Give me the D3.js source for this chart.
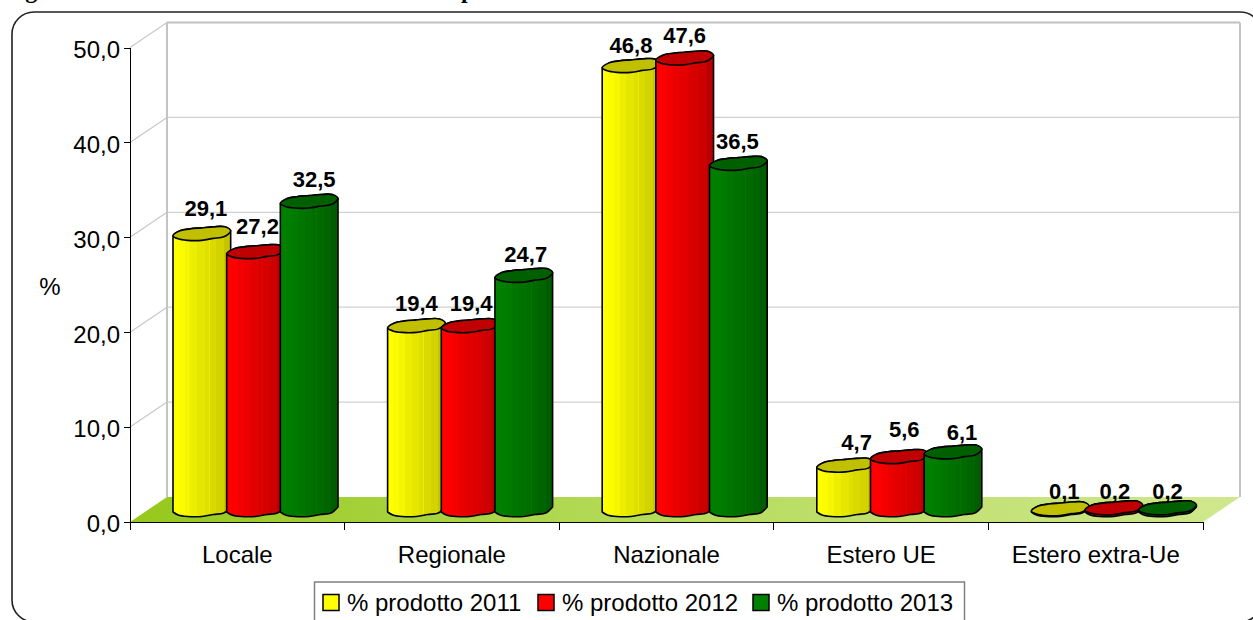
<!DOCTYPE html>
<html lang="it">
<head>
<meta charset="utf-8">
<title>Prodotto per destinazione</title>
<script src="https://cdn.jsdelivr.net/npm/d3@7/dist/d3.min.js"></script>
<style>
  html, body { margin: 0; padding: 0; background: #fff; overflow: hidden; }
  svg { display: block; font-family: "Liberation Sans", Arial, sans-serif; }
  .axis text { font-size: 24px; fill: #000; }
  .axis path, .axis line { stroke: #000; stroke-width: 1; shape-rendering: crispEdges; }
  .value { font-size: 22px; font-weight: 700; fill: #000; text-anchor: middle; }
</style>
</head>
<body>
<svg id="chart" width="1253" height="620"></svg>
<script>
// Chart values
const categories = ["Locale", "Regionale", "Nazionale", "Estero UE", "Estero extra-Ue"];
const seriesNames = ["% prodotto 2011", "% prodotto 2012", "% prodotto 2013"];
const values2011 = [29.1, 19.4, 46.8, 4.7, 0.1];
const values2012 = [27.2, 19.4, 47.6, 5.6, 0.2];
const values2013 = [32.5, 24.7, 36.5, 6.1, 0.2];
const yTicks = [0, 10, 20, 30, 40, 50];
const titleFragments = ["Figura", "p"];

// Appearance of each series: front colour, shaded side colour, cap colour
const seriesFill = ["#ffff00", "#ff0000", "#008000"];
const seriesShade = ["#c4c400", "#bb0000", "#005c00"];
const seriesCap = ["#c0c000", "#c00000", "#006000"];

// Hand placement of the data labels above the caps, per series and category
const labelLift = [
  [18, 15, 13, 15, 10],
  [18, 15, 15, 20, 9],
  [15, 14, 15, 12, 9]
];
const labelShift = [
  [4.5, 0.5, 0.5, 11.5, 4.5],
  [2.5, 1.5, 0.5, 5.5, 1.5],
  [5.5, 2.5, -0.5, 9.5, 0.5]
];

const seriesValues = [values2011, values2012, values2013];

const svg = d3.select("#chart");

// Plot box: front plane plus the offset of the receding back wall
const plotLeft = 130, plotRight = 1203, plotBottom = 522, plotTop = 47.5;
const depthX = 37, depthY = -25;

const y = d3.scaleLinear().domain([0, 50]).range([plotBottom, plotTop]);
const x = d3.scaleBand().domain(categories).range([plotLeft, plotRight]);
const seriesX = d3.scaleBand().domain(d3.range(seriesNames.length)).range([43, 204]);
const columnWidth = seriesX.step() + 4;
const depthLift = 12;          // columns stand halfway back on the floor

const it = d3.formatLocale({ decimal: ",", thousands: ".", grouping: [3], currency: ["€", ""] });
const fmt = it.format(".1f");

const defs = svg.append("defs");

// Floor shading
const floorGrad = defs.append("linearGradient").attr("id", "floor");
floorGrad.append("stop").attr("offset", 0).attr("stop-color", "#96c81c");
floorGrad.append("stop").attr("offset", 0.45).attr("stop-color", "#b4da58");
floorGrad.append("stop").attr("offset", 1).attr("stop-color", "#cfe88e");

// Faceted column shading, left to right
const facets = [[0, 0], [0.1, 0.05], [0.2, 0.15], [0.3, 0.3], [0.42, 0.42], [0.55, 0.55], [0.62, 0.3], [0.635, 0.62], [0.75, 0.75], [0.88, 1]];
seriesFill.forEach((c, i) => {
  const g = defs.append("linearGradient").attr("id", "col" + i);
  const mix = d3.interpolateRgb(c, seriesShade[i]);
  facets.forEach((f, k) => {
    const next = k + 1 < facets.length ? facets[k + 1][0] : 1;
    g.append("stop").attr("offset", f[0]).attr("stop-color", mix(f[1]));
    g.append("stop").attr("offset", next).attr("stop-color", mix(f[1]));
  });
});

// Rounded frame around the plot
svg.append("rect")
  .attr("x", 12).attr("y", 12).attr("width", 1250).attr("height", 610).attr("rx", 22)
  .attr("fill", "#fff").attr("stroke", "#222").attr("stroke-width", 1.6);

// Heading, running along the top edge
const titleAt = [4, 461];
svg.selectAll("text.title").data(titleFragments).join("text")
  .attr("class", "title")
  .attr("x", (d, i) => titleAt[i]).attr("y", -2)
  .attr("font-family", "Liberation Serif, serif").attr("font-weight", 700).attr("font-size", 24)
  .text(d => d);

// Walls and gridlines
const wall = svg.append("g");
const gridTicks = yTicks.filter(d => d > 0);
wall.selectAll("line.back").data(gridTicks).join("line")
  .attr("class", "back")
  .attr("x1", plotLeft + depthX).attr("x2", plotRight + depthX)
  .attr("y1", d => y(d) + depthY).attr("y2", d => y(d) + depthY)
  .attr("stroke", d => d === 50 ? "#c0c0c0" : "#d0d0d0")
  .attr("stroke-width", d => d === 50 ? 2 : 1.2);
wall.selectAll("line.side").data(gridTicks).join("line")
  .attr("class", "side")
  .attr("x1", plotLeft).attr("x2", plotLeft + depthX)
  .attr("y1", d => y(d)).attr("y2", d => y(d) + depthY)
  .attr("stroke", "#c8c8c8").attr("stroke-width", 1.2);
[plotLeft + depthX, plotRight + depthX].forEach(wx => {
  wall.append("line")
    .attr("x1", wx).attr("x2", wx)
    .attr("y1", y(50) + depthY).attr("y2", y(0) + depthY)
    .attr("stroke", "#c4c4c4").attr("stroke-width", 2);
});

// Floor
svg.append("path")
  .attr("d", d3.line()([
    [plotLeft, y(0)], [plotLeft + depthX, y(0) + depthY],
    [plotRight + depthX, y(0) + depthY], [plotRight, y(0)]
  ]) + "Z")
  .attr("fill", "url(#floor)");

// Column cap outline: x as a share of the column width, y as pixels from the cap centre
const capUpper = [[0, 2], [0.12, -3], [0.3, -5], [0.5, -6], [0.7, -7], [0.9, -7], [1, -3]];
const capLower = [[0.88, 3], [0.7, 4.5], [0.5, 6.5], [0.25, 6.5], [0.09, 5]];

const smooth = d3.line().curve(d3.curveCatmullRom.alpha(0.5));
const smoothClosed = d3.line().curve(d3.curveCatmullRomClosed.alpha(0.5));

const columns = svg.append("g");
categories.forEach((cat, ci) => {
  seriesValues.forEach((vals, si) => {
    const v = vals[ci];
    const x0 = x(cat) + seriesX(si);
    const capY = y(v) - depthLift;
    const baseY = y(0) - depthLift;
    const toTop = p => [x0 + p[0] * columnWidth, capY + p[1]];
    const toBase = p => [x0 + p[0] * columnWidth, baseY + p[1]];

    const upper = capUpper.map(toTop);
    const lowerAtBase = [capUpper[capUpper.length - 1], ...capLower, capUpper[0]].map(toBase);
    const body = smooth(upper) + "L" + smooth(lowerAtBase).slice(1) + "Z";

    columns.append("path")
      .attr("d", body)
      .attr("fill", `url(#col${si})`)
      .attr("stroke", "#000").attr("stroke-width", 1.6).attr("stroke-linejoin", "round");
    columns.append("path")
      .attr("d", smoothClosed([...capUpper, ...capLower].map(toTop)))
      .attr("fill", seriesCap[si])
      .attr("stroke", "#000").attr("stroke-width", 1.6).attr("stroke-linejoin", "round");
  });
});

// Data labels
categories.forEach((cat, ci) => {
  seriesValues.forEach((vals, si) => {
    svg.append("text")
      .attr("class", "value")
      .attr("x", x(cat) + seriesX(si) + seriesX.step() / 2 + 1.5 + labelShift[si][ci])
      .attr("y", y(vals[ci]) - depthLift - labelLift[si][ci])
      .text(fmt(vals[ci]));
  });
});

// Axes
const yAxis = d3.axisLeft(y).tickValues(yTicks).tickFormat(fmt).tickSize(6).tickPadding(4);
const gy = svg.append("g").attr("class", "axis").attr("transform", `translate(${plotLeft},0)`).call(yAxis);
gy.selectAll("text").attr("dy", "0.41em");

const xAxis = d3.axisBottom(x).tickSize(0).tickPadding(24);
const gx = svg.append("g").attr("class", "axis").attr("transform", `translate(0,${plotBottom})`).call(xAxis);
// Category separators sit on band edges rather than centres
gx.selectAll(".tick line").remove();
gx.selectAll("line.sep").data([...categories.map(c => x(c)), plotRight]).join("line")
  .attr("class", "sep")
  .attr("x1", d => d).attr("x2", d => d).attr("y1", 0).attr("y2", 8);
gx.select(".domain").attr("d", `M${plotLeft},0H${plotRight}`);

svg.append("text").attr("x", 50).attr("y", 295).attr("text-anchor", "middle")
  .attr("font-size", 24).text("%");

// Legend
const legend = svg.append("g");
legend.append("rect")
  .attr("x", 314.5).attr("y", 582).attr("width", 650).attr("height", 50)
  .attr("fill", "#fff").attr("stroke", "#808080").attr("stroke-width", 1.5);
const legendX = d3.scalePoint().domain(seriesNames).range([323, 753]);
seriesNames.forEach((name, i) => {
  legend.append("rect")
    .attr("x", legendX(name)).attr("y", 594.5).attr("width", 16).attr("height", 16)
    .attr("fill", seriesFill[i]).attr("stroke", "#000").attr("stroke-width", 1.5);
  legend.append("text")
    .attr("x", legendX(name) + 24).attr("y", 611)
    .attr("font-size", 24).text(name);
});
</script>
</body>
</html>
